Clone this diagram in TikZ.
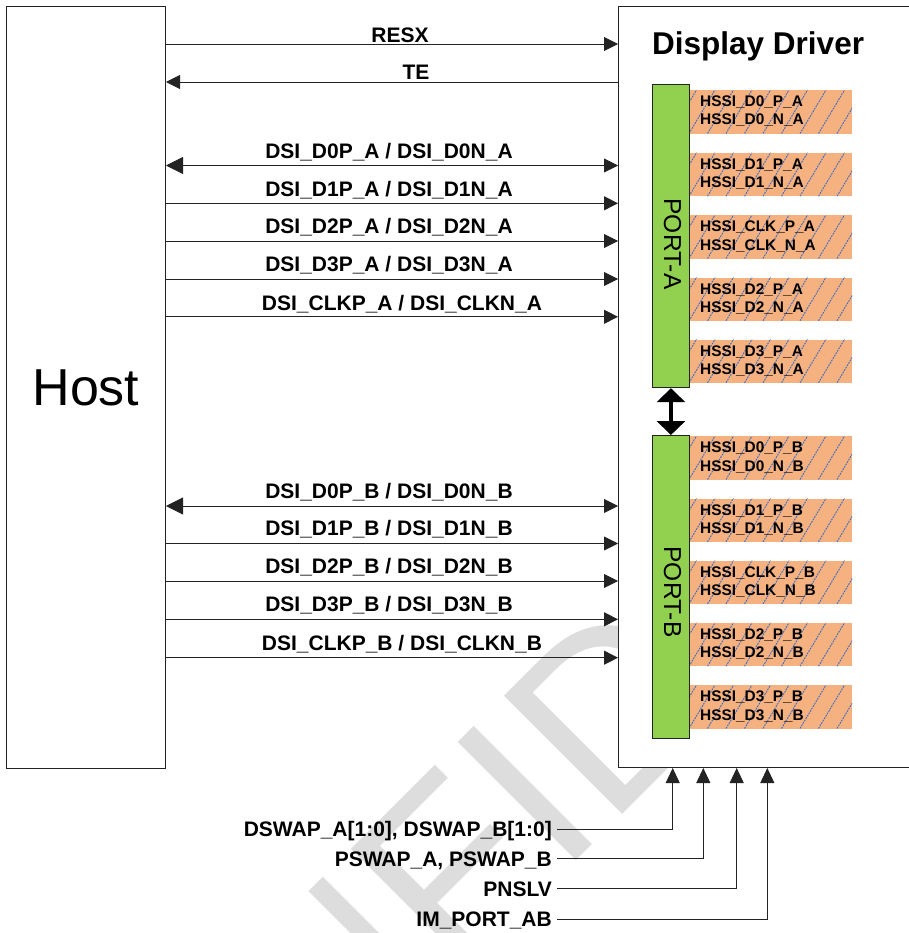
\documentclass[tikz,border=0pt]{standalone}
\usepackage{fontspec}
\setmainfont{Liberation Sans}
\usetikzlibrary{arrows.meta}
\definecolor{lnc}{RGB}{35,35,35}
\definecolor{wmc}{RGB}{221,221,221}
\definecolor{portg}{RGB}{146,208,80}
\definecolor{hsor}{RGB}{245,178,128}
\definecolor{hsbl}{RGB}{60,105,195}
\newcommand\lblfont{\fontsize{21}{25}\selectfont\bfseries}
\newcommand\hsfont{\fontsize{15.4}{18}\selectfont\bfseries}
\begin{document}
\begin{tikzpicture}[x=1pt,y=-1pt,
  box/.style={draw=lnc, line width=1pt, fill=white, inner sep=0pt},
  sig/.style={draw=lnc, line width=0.9pt},
  tipr/.style={-{Triangle[length=14pt,width=14pt]}},
  tipl/.style={{Triangle[length=14pt,width=14pt]}-},
  tipb/.style={{Triangle[length=17pt,width=17pt]}-{Triangle[length=14pt,width=14pt]}},
  tipu/.style={-{Triangle[length=15pt,width=14pt]}},
  lbl/.style={font=\lblfont, inner sep=0pt, text=black},
  hsbox/.style={fill=hsor, draw=none, inner sep=0pt, minimum width=163pt, minimum height=43.5pt, anchor=north west},
  hatch/.style={draw=hsbl, line width=0.9pt, dash pattern=on 1.8pt off 1.0pt},
  hstxt/.style={font=\hsfont, inner sep=0pt, anchor=base west},
  port/.style={draw=lnc, line width=1pt, fill=portg, inner sep=0pt, anchor=north west, minimum width=37.5pt},
  porttxt/.style={rotate=-90, font=\fontsize{24.5}{26}\selectfont, inner sep=0pt}
]
\useasboundingbox (0,0) rectangle (908,933);
\fill[white] (0,0) rectangle (908,933);

% watermark
\node[rotate=45, anchor=base west, inner sep=0pt, text=wmc,
      font=\fontsize{243}{243}\selectfont] (wmk) at (74,1363) {CONFIDENTIAL};

% main boxes
\node[box, anchor=north west, minimum width=159pt, minimum height=762pt,
      font=\fontsize{52}{56}\selectfont] (host) at (6,6) {Host};
\node[box, anchor=north west, minimum width=294pt, minimum height=761pt] (drv) at (618,6) {};
\node[lbl, font=\fontsize{31.5}{34}\selectfont\bfseries, anchor=base west] (drvt) at (652,55) {Display Driver};

% top signals
\draw[sig, tipr] (host.east |- 0,44) -- (drv.west |- 0,44);
\node[lbl, anchor=base] (resx) at (400,42.5) {RESX};
\draw[sig, tipr] (drv.west |- 0,82) -- (host.east |- 0,82);
\node[lbl, anchor=base] (te) at (416,80) {TE};

% port A signals
\draw[sig, tipb] (host.east |- 0,165.5) -- (drv.west |- 0,165.5);
\node[lbl, anchor=base] (la0) at (389,159) {DSI\_D0P\_A / DSI\_D0N\_A};
\draw[sig, tipr] (host.east |- 0,203.3) -- (drv.west |- 0,203.3);
\node[lbl, anchor=base] (la1) at (389,196.6) {DSI\_D1P\_A / DSI\_D1N\_A};
\draw[sig, tipr] (host.east |- 0,241) -- (drv.west |- 0,241);
\node[lbl, anchor=base] (la2) at (389,233.5) {DSI\_D2P\_A / DSI\_D2N\_A};
\draw[sig, tipr] (host.east |- 0,279) -- (drv.west |- 0,279);
\node[lbl, anchor=base] (la3) at (389,271.7) {DSI\_D3P\_A / DSI\_D3N\_A};
\draw[sig, tipr] (host.east |- 0,316.8) -- (drv.west |- 0,316.8);
\node[lbl, anchor=base] (la4) at (402,310) {DSI\_CLKP\_A / DSI\_CLKN\_A};

% port B signals
\draw[sig, tipb] (host.east |- 0,506) -- (drv.west |- 0,506);
\node[lbl, anchor=base] (lb0) at (389,498.3) {DSI\_D0P\_B / DSI\_D0N\_B};
\draw[sig, tipr] (host.east |- 0,543.5) -- (drv.west |- 0,543.5);
\node[lbl, anchor=base] (lb1) at (389,535.8) {DSI\_D1P\_B / DSI\_D1N\_B};
\draw[sig, tipr] (host.east |- 0,581) -- (drv.west |- 0,581);
\node[lbl, anchor=base] (lb2) at (389,573.3) {DSI\_D2P\_B / DSI\_D2N\_B};
\draw[sig, tipr] (host.east |- 0,619.3) -- (drv.west |- 0,619.3);
\node[lbl, anchor=base] (lb3) at (389,611.6) {DSI\_D3P\_B / DSI\_D3N\_B};
\draw[sig, tipr] (host.east |- 0,657.7) -- (drv.west |- 0,657.7);
\node[lbl, anchor=base] (lb4) at (402,650) {DSI\_CLKP\_B / DSI\_CLKN\_B};

% HSSI boxes
\foreach \t/\n/\p in {90/D0/A, 152.7/D1/A, 215/CLK/A, 277.3/D2/A, 339.3/D3/A,
                      436/D0/B, 498.3/D1/B, 560.5/CLK/B, 622.7/D2/B, 685/D3/B} {
  \node[hsbox] (hs\n\p) at (689,\t) {};
  \begin{scope}
    \clip (689,\t) rectangle (852,\t+43.5);
    \foreach \k in {-2,...,9} {
      \draw[hatch] (689+\k*18.5,\t+43.5) -- ++(26,-43.5);
    }
  \end{scope}
  \node[hstxt] (hp\n\p) at (700,\t+16.7) {HSSI\_\n\_P\_\p};
  \node[hstxt] (hn\n\p) at (700,\t+35) {HSSI\_\n\_N\_\p};
}

% ports
\node[port, minimum height=303pt] (pA) at (651.7,84.2) {};
\node[porttxt] (pAt) at (672.5,244) {PORT-A};
\node[port, minimum height=302.7pt] (pB) at (651.7,435) {};
\node[porttxt] (pBt) at (672.5,592) {PORT-B};
\draw[black, line width=4pt, {Triangle[length=14pt,width=28pt]}-{Triangle[length=14pt,width=28pt]}]
  (pA.south) -- (pB.north);

% control inputs
\coordinate (k1) at (557,829.3);
\coordinate (k2) at (557,858.8);
\coordinate (k3) at (557,888.8);
\coordinate (k4) at (557,919.3);
\node[lbl, anchor=base east] (c1) at (552,836.8) {DSWAP\_A[1:0], DSWAP\_B[1:0]};
\node[lbl, anchor=base east] (c2) at (552,866.3) {PSWAP\_A, PSWAP\_B};
\node[lbl, anchor=base east] (c3) at (552,896.3) {PNSLV};
\node[lbl, anchor=base east] (c4) at (552,926.8) {IM\_PORT\_AB};
\draw[sig, tipu] (k1) -| (drv.south -| 672.7,0);
\draw[sig, tipu] (k2) -| (drv.south -| 703.3,0);
\draw[sig, tipu] (k3) -| (drv.south -| 736.7,0);
\draw[sig, tipu] (k4) -| (drv.south -| 767.3,0);
\end{tikzpicture}
\end{document}
